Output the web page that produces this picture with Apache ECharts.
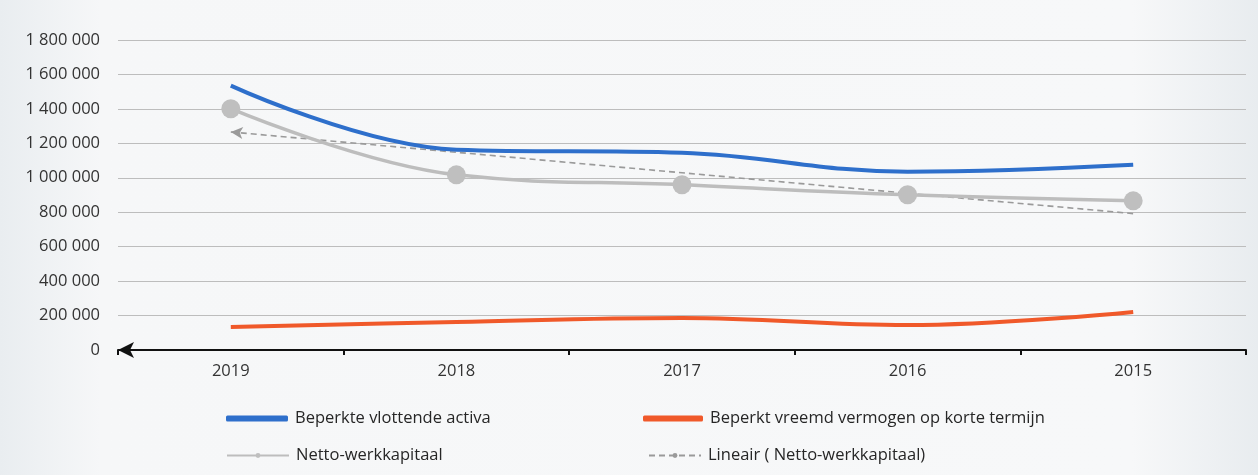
<!DOCTYPE html>
<html><head><meta charset="utf-8">
<script src="https://cdn.jsdelivr.net/npm/echarts@6/dist/echarts.min.js"></script>
<style>html,body{margin:0;padding:0;background:#f3f5f7}#c{width:1258px;height:475px}</style>
</head><body><div id="c"></div>
<script>
const categories = ['2019', '2018', '2017', '2016', '2015'];
const vlottendeActiva = [1535000, 1163000, 1145000, 1035000, 1075000];
const vreemdVermogen = [134000, 163000, 186000, 145000, 221000];
const nettoWerkkapitaal = [1401000, 1017000, 959000, 901000, 866000];
const lineairNetto = [1266000, 1148000, 1029000, 910000, 792000];
const yTicks = [0, 200000, 400000, 600000, 800000, 1000000, 1200000, 1400000, 1600000, 1800000];

const FONT = '"Open Sans", "Liberation Sans", sans-serif';
const names = ['Beperkte vlottende activa', 'Beperkt vreemd vermogen op korte termijn', 'Netto-werkkapitaal', 'Lineair ( Netto-werkkapitaal)'];
const fmt = v => String(v).replace(/\B(?=(\d{3})+(?!\d))/g, ' ');

const chart = echarts.init(document.getElementById('c'));
const legendBase = {itemWidth: 62, itemHeight: 6, padding: 0, textStyle: {fontFamily: FONT, fontSize: 16.5, color: '#262626', padding: [0, 0, 0, 2]}, itemGap: 8};
chart.setOption({
  backgroundColor: new echarts.graphic.LinearGradient(0, 0, 1, 0, [
    {offset: 0, color: '#e9edf0'}, {offset: 0.08, color: '#f6f7f8'}, {offset: 0.9, color: '#f7f8f9'}, {offset: 1, color: '#e8ecef'}]),
  animation: false,
  grid: {left: 118, right: 12, top: 40, bottom: 125},
  legend: [
    Object.assign({}, legendBase, {left: 226, top: 410, data: [{name: names[0], icon: 'roundRect'}]}),
    Object.assign({}, legendBase, {left: 643, top: 410, itemWidth: 60, data: [{name: names[1], icon: 'roundRect'}]}),
    Object.assign({}, legendBase, {left: 226, top: 447, data: [names[2]]}),
    Object.assign({}, legendBase, {left: 648, top: 447, itemWidth: 52, data: [names[3]]})
  ],
  xAxis: {
    type: 'category', data: categories, boundaryGap: true,
    axisLine: {show: true, symbol: ['arrow', 'none'], symbolSize: [12, 16], lineStyle: {color: '#111', width: 2}},
    axisTick: {show: true, length: 5, lineStyle: {color: '#111', width: 2}},
    axisLabel: {fontFamily: FONT, fontSize: 16.5, color: '#333', margin: 13}
  },
  yAxis: {
    type: 'value', min: 0, max: 1800000, interval: 200000,
    axisLine: {show: false}, axisTick: {show: false},
    splitLine: {lineStyle: {color: '#bdbdbd', width: 1}},
    axisLabel: {fontFamily: FONT, fontSize: 16.5, color: '#333', margin: 18,
      formatter: v => yTicks.includes(v) ? fmt(v) : ''}
  },
  series: [
    {name: names[0], type: 'line', smooth: 0.4, data: vlottendeActiva, showSymbol: false, symbol: 'none',
     lineStyle: {color: '#2e6fcb', width: 4}, itemStyle: {color: '#2e6fcb'}, z: 3},
    {name: names[1], type: 'line', smooth: 0.4, data: vreemdVermogen, showSymbol: false, symbol: 'none',
     lineStyle: {color: '#f0592a', width: 4}, itemStyle: {color: '#f0592a'}, z: 3},
    {name: names[3], type: 'line', smooth: false, symbol: 'none',
     data: lineairNetto.map((v, i) => i === 0 ? {value: v, symbol: 'arrow', symbolSize: [9, 12], symbolRotate: 85} : v),
     showSymbol: true,
     lineStyle: {color: '#9a9a9a', width: 1.6, type: [6, 4]}, itemStyle: {color: '#9a9a9a'}, z: 2},
    {name: names[2], type: 'line', smooth: 0.4, data: nettoWerkkapitaal, symbol: 'circle', symbolSize: 19,
     lineStyle: {color: '#bdbdbd', width: 3.5}, itemStyle: {color: '#bfbfbf'}, z: 4}
  ]
});
</script></body></html>
